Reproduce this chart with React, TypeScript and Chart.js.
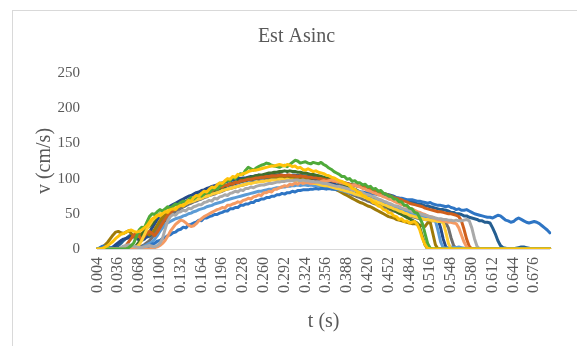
import React, { useEffect, useRef } from 'react';
import { Chart, registerables } from 'chart.js';

Chart.register(...registerables);

// Category axis: t (s), 0.004 .. 0.700 every 0.004
const categories: string[] = Array.from({ length: 175 }, (_, i) => ((i + 1) * 0.004).toFixed(3));
const yTicks = [0, 50, 100, 150, 200, 250];

const vYellow = [
  0,0,1,3,5,8,11,15,18,21,22,24,26,27,25,24,25,27,30,33,38,
  43,45,48,47,50,53,52,56,57,56,60,62,61,65,69,68,73,76,75,79,82,81,85,88,87,91,94,93,97,100,99,103,102,106,105,
  107,108,110,111,112,112,113,114,115,116,117,118,118,119,120,119,118,120,119,117,118,115,116,113,112,114,112,110,111,109,108,107,105,104,102,101,99,97,96,94,
  92,90,86,85,81,80,76,75,71,70,66,65,61,60,56,55,51,51,47,46,42,43,39,40,37,38,39,35,27,15,6,1,0,
  0,0,0,0,0,0,0,0,0,0,0,0,0,0,0,0,0,0,0,0,0,0,0,0,0,0,0,0,0,0,0,0,0,0,0,0,0,0,0,0,0,0,0,0,0,0,
];

const vGreen = [
  0,0,0,0,0,0,0,0,0,0,0,0,2,5,
  9,18,27,31,30,38,46,50,49,53,56,54,57,60,58,61,64,
  63,66,68,66,70,73,71,74,77,75,78,81,80,84,86,85,89,92,95,98,97,102,100,104,107,106,112,116,
  114,112,115,117,119,120,122,121,119,118,117,116,118,119,117,120,123,126,125,122,123,124,122,121,123,122,121,123,120,118,115,113,110,108,
  106,103,103,99,100,96,97,94,94,91,92,88,89,85,86,82,83,79,78,75,75,71,71,67,67,62,62,58,57,52,51,44,36,22,8,1,
  0,0,0,0,0,0,0,0,0,0,0,0,0,0,0,0,0,0,0,0,0,0,0,0,0,0,0,0,0,0,0,0,0,0,0,0,0,0,0,0,0,0,0,0,0,0,
];

const vGray = [
  0,0,0,0,0,0,0,0,0,2,4,5,6,5,4,3,2,2,3,4,5,4,3,5,8,15,
  28,40,46,49,48,52,53,55,54,58,57,60,61,63,63,66,67,69,68,72,71,74,75,77,76,79,80,82,81,84,83,86,86,88,87,
  89,90,91,91,92,93,93,94,95,95,96,96,97,97,97,98,98,97,98,97,97,96,96,95,95,94,93,93,92,91,90,89,89,88,87,86,85,84,83,82,
  81,80,78,77,76,74,73,71,70,68,67,65,64,62,61,60,58,57,56,55,53,52,51,50,49,48,47,46,45,44,43,43,42,42,41,41,40,41,40,40,41,42,40,30,15,4,0,
  0,0,0,0,0,0,0,0,0,0,0,0,0,0,0,0,0,0,0,0,0,0,0,0,0,0,0,
];

const vSalmon = [
  0,0,0,0,0,0,0,0,0,0,0,0,0,0,0,0,0,0,0,0,0,1,2,3,5,
  8,12,18,25,30,35,38,41,40,37,34,32,33,36,40,43,46,48,50,52,54,
  56,57,59,58,62,62,64,65,67,66,69,70,72,71,74,75,77,76,80,80,82,81,85,85,87,88,90,89,92,91,94,92,95,93,94,
  94,93,94,95,95,96,97,96,97,98,97,96,95,94,93,92,91,90,91,89,88,86,85,83,82,80,79,77,76,74,
  73,71,70,68,66,65,63,62,60,58,57,55,53,52,50,49,47,46,45,43,42,41,40,39,38,38,37,36,30,20,10,3,0,
  0,0,0,0,0,0,0,0,0,0,0,0,0,0,0,0,0,0,0,0,0,0,0,0,0,0,0,0,0,0,0,
];

const vGold = [
  0,0,0,0,0,0,0,0,0,0,0,0,0,0,1,3,6,12,
  20,28,34,40,44,47,50,52,54,55,57,58,59,61,62,63,64,66,67,68,70,71,72,74,75,76,78,79,80,81,83,84,85,
  86,87,88,89,90,91,92,93,93,94,95,95,96,96,97,97,98,98,98,99,99,98,99,98,98,97,97,96,96,95,95,94,93,93,92,91,90,90,89,88,
  87,86,85,84,83,82,81,80,78,77,76,75,73,72,71,69,68,66,65,63,62,60,59,57,56,54,53,51,50,48,47,46,45,44,43,42,42,41,40,40,39,39,38,24,8,0,
  0,0,0,0,0,0,0,0,0,0,0,0,0,0,0,0,0,0,0,0,0,0,0,0,0,0,0,0,0,0,0,0,0,0,0,0,0,0,
];

const vOrange = [
  0,0,0,0,0,0,0,0,0,0,2,5,
  10,15,20,22,18,14,18,23,25,22,19,24,30,36,42,
  48,51,55,56,61,61,65,65,70,70,73,73,76,76,80,79,83,82,86,85,88,88,91,90,93,92,95,94,97,
  97,98,99,99,100,101,101,102,102,103,103,104,104,104,105,105,104,105,105,104,104,103,104,103,103,102,102,101,101,100,100,99,98,98,97,
  96,96,95,94,94,93,92,91,91,90,89,88,87,86,85,84,83,81,80,79,78,76,75,73,72,71,70,68,67,65,64,63,62,61,60,58,57,56,55,54,53,53,52,51,50,50,49,48,46,40,28,14,4,
  0,0,0,0,0,0,0,0,0,0,0,0,0,0,0,0,0,0,0,0,0,0,0,0,0,0,0,0,0,0,0,
];

const vBlue = [
  0,2,4,4,3,2,1,0,0,0,0,0,0,0,0,0,0,0,0,2,
  4,7,8,11,12,15,16,19,20,23,24,27,28,31,30,34,35,37,38,41,40,44,44,46,47,49,
  49,51,52,54,54,57,57,59,59,62,62,64,64,66,66,69,69,71,71,73,73,75,75,77,77,79,78,80,80,82,81,83,83,84,84,
  84,85,85,86,85,86,86,85,86,85,85,84,85,84,83,84,83,82,83,82,81,81,80,80,79,78,78,77,77,76,76,75,74,74,73,72,72,71,70,70,
  70,69,68,68,67,66,65,66,64,63,62,62,61,60,61,59,58,56,57,55,55,56,54,52,50,49,48,47,46,45,45,44,46,48,47,44,41,40,38,39,42,44,42,40,38,37,38,39,38,36,33,30,27,23,
];

const vLtBlue = [
  0,0,0,0,0,0,0,0,0,0,0,0,1,2,3,2,1,2,4,6,8,10,
  14,19,25,30,34,37,39,41,43,44,45,47,48,50,51,53,54,56,57,58,60,61,62,64,65,66,67,69,70,71,72,73,74,75,
  76,77,78,79,80,81,82,82,83,84,85,85,86,87,87,88,88,89,89,90,90,91,90,91,91,90,91,90,90,89,89,88,88,87,86,86,85,84,83,82,
  81,80,79,78,77,76,75,74,73,71,70,69,68,66,65,64,62,61,60,58,57,55,54,53,52,50,49,48,47,46,45,44,43,42,40,26,10,2,
  1,2,3,2,2,3,2,1,1,0,0,0,0,0,0,0,0,0,0,0,0,0,0,0,0,0,0,0,0,0,0,0,0,0,0,0,0,0,0,0,0,
];

const vDkGreen = [
  0,0,0,0,0,0,0,0,0,0,0,0,0,1,3,5,10,
  18,26,30,32,36,42,47,50,52,54,56,58,60,62,63,64,66,67,69,70,72,73,75,76,
  77,79,80,82,83,85,86,88,89,91,92,93,95,96,98,99,100,101,102,103,104,105,105,106,107,108,108,109,109,110,110,111,110,111,110,
  110,109,109,108,108,107,106,106,105,104,103,102,101,100,98,97,96,94,93,91,90,88,86,85,83,81,79,77,75,73,71,69,67,65,63,61,59,57,55,53,51,49,47,45,43,41,39,37,30,18,6,0,
  0,0,0,0,0,0,0,0,0,0,0,0,0,0,0,0,0,0,0,0,0,0,0,0,0,0,0,0,0,0,0,0,0,0,0,0,0,0,0,0,0,0,0,0,0,0,0,
];

const vOlive = [
  0,1,3,6,10,15,20,24,25,23,22,24,26,22,18,17,19,22,24,22,20,23,28,34,40,
  45,48,51,54,57,59,61,63,65,67,69,70,72,74,75,77,78,80,81,83,84,86,87,88,89,91,92,93,94,95,96,97,98,99,99,100,
  101,101,102,102,103,102,103,103,102,103,102,102,101,102,101,100,101,100,99,99,98,97,96,95,94,92,91,90,88,87,85,84,82,80,78,
  76,74,72,70,68,66,65,63,61,60,58,56,54,52,50,48,46,45,44,42,41,40,39,38,37,36,36,35,34,33,32,37,38,22,6,
  0,0,0,0,0,0,0,0,0,0,0,0,0,0,0,0,0,0,0,0,0,0,0,0,0,0,0,0,0,0,0,0,0,0,0,0,0,0,0,0,0,0,0,0,
];

const vDkGray = [
  0,0,0,0,0,0,0,0,0,0,0,0,0,0,0,0,2,4,6,9,12,
  16,22,28,34,40,44,47,50,52,54,56,58,60,62,64,65,67,68,70,71,73,74,76,77,78,80,81,82,84,85,86,87,88,89,90,
  91,92,93,94,95,95,96,97,97,98,98,99,99,100,100,101,100,101,100,100,99,99,98,98,97,96,96,95,94,93,92,91,90,89,88,87,86,84,83,82,
  80,79,77,76,74,73,71,70,68,67,65,64,62,61,59,58,57,55,54,53,51,50,49,48,47,46,45,44,43,43,42,41,41,40,40,39,39,38,37,30,16,5,0,
  0,0,0,0,0,0,0,0,0,0,0,0,0,0,0,0,0,0,0,0,0,0,0,0,0,0,0,0,0,0,0,0,0,0,0,0,
];

const vNavy = [
  0,0,0,0,0,1,3,6,9,12,14,15,16,18,17,15,13,12,14,18,
  24,30,36,42,47,51,55,58,61,63,65,67,69,71,73,75,76,78,80,81,83,84,86,87,89,90,91,93,94,95,96,
  97,98,99,100,100,101,101,102,103,103,104,105,104,105,106,105,106,106,105,106,105,104,105,104,103,104,103,102,102,101,100,100,99,98,98,
  97,96,95,94,93,92,91,90,89,88,87,85,84,83,81,80,78,77,75,74,72,71,69,68,66,65,63,62,60,59,58,57,55,54,53,52,51,50,49,48,47,46,45,44,43,42,30,14,3,0,
  0,0,0,0,0,0,0,0,0,0,0,0,0,0,0,0,0,0,0,0,0,0,0,0,0,0,0,0,0,0,0,0,0,0,0,0,0,0,0,
];

const vTeal = [
  0,0,0,0,0,0,0,2,5,8,
  12,15,18,20,19,18,20,21,19,17,18,20,24,28,32,
  36,40,44,47,50,53,55,58,60,62,64,66,68,70,72,74,76,78,79,81,83,84,86,87,88,90,
  91,92,93,94,95,96,97,98,98,99,100,100,101,102,101,102,103,103,104,103,104,104,105,104,105,105,104,105,104,104,
  103,104,102,103,101,101,100,100,98,98,97,96,96,94,94,93,92,91,91,89,89,87,87,85,85,83,82,82,80,79,78,77,76,75,73,72,71,70,69,68,
  67,66,64,64,63,61,61,60,59,58,57,56,56,55,54,52,52,50,50,49,47,47,45,44,43,42,40,40,38,38,37,30,22,12,5,2,1,0,0,0,1,2,3,3,2,1,0,0,0,0,0,0,0,0,
];

// drawn top-first (Chart.js paints dataset 0 last)
const seriesNames = ['Yellow', 'Green', 'Gray', 'Salmon', 'Gold', 'Orange', 'Blue', 'LightBlue', 'DarkGreen', 'Olive', 'DarkGray', 'Navy', 'Teal'];
const seriesData = [vYellow, vGreen, vGray, vSalmon, vGold, vOrange, vBlue, vLtBlue, vDkGreen, vOlive, vDkGray, vNavy, vTeal];
const seriesColors = ['#FFC20A', '#4FAA3A', '#A9A9A9', '#F59A62', '#FFCD33', '#D0601C', '#2E75C4', '#5B9BD5', '#3E6F2A', '#9E7A08', '#707070', '#244A8A', '#245E91'];

const FONT = "'Liberation Serif', 'Times New Roman', serif";
const TEXT = '#595959';

export default function App() {
  const ref = useRef<HTMLCanvasElement | null>(null);
  useEffect(() => {
    const bad = seriesData.map((d, i) => [seriesNames[i], d.length]).filter((x) => x[1] !== 175);
    if (bad.length) throw new Error('bad lengths ' + JSON.stringify(bad));
    const chart = new Chart(ref.current as HTMLCanvasElement, {
      type: 'line',
      data: {
        labels: categories,
        datasets: seriesData.map((d, i) => ({
          label: seriesNames[i],
          data: d,
          borderColor: seriesColors[i],
          backgroundColor: seriesColors[i],
          borderWidth: 3,
          pointRadius: 0,
          tension: 0,
          fill: false,
          borderJoinStyle: 'round' as const,
          borderCapStyle: 'round' as const,
        })),
      },
      options: {
        responsive: false,
        animation: false,
        devicePixelRatio: 1,
        layout: { padding: { left: 29, right: 13, top: 0, bottom: 0 } },
        plugins: {
          legend: { display: false },
          tooltip: { enabled: false },
          title: {
            display: true,
            text: 'Est Asinc',
            color: TEXT,
            font: { family: FONT, size: 20, weight: 'normal' },
            padding: { top: 25, bottom: 24 },
          },
        },
        scales: {
          x: {
            type: 'category',
            offset: false,
            grid: { display: false, drawTicks: false },
            border: { display: true, color: '#d9d9d9', width: 1 },
            ticks: {
              autoSkip: false,
              minRotation: 90,
              maxRotation: 90,
              padding: 8,
              color: TEXT,
              font: { family: FONT, size: 16 },
              callback: (_v: any, i: number) => (i % 8 === 0 ? categories[i] : ''),
            },
            title: {
              display: true,
              text: 't (s)',
              color: TEXT,
              font: { family: FONT, size: 20 },
              padding: { top: 4, bottom: 12 },
            },
            afterFit: (s: any) => { s.height = 97; },
          },
          y: {
            min: 0,
            max: 250,
            afterBuildTicks: (s: any) => { s.ticks = yTicks.map((v) => ({ value: v })); },
            grid: { display: false, drawTicks: false },
            border: { display: false },
            ticks: { padding: 17.5, color: TEXT, font: { family: FONT, size: 15 } },
            title: {
              display: true,
              text: 'v (cm/s)',
              color: TEXT,
              font: { family: FONT, size: 20 },
              padding: { top: 4, bottom: 4 },
            },
            afterFit: (s: any) => { s.width = 68.5; },
          },
        },
      },
    });
    return () => chart.destroy();
  }, []);

  return (
    <div style={{ position: 'fixed', left: 0, top: 0, width: 577, height: 346, overflow: 'hidden', background: '#fff' }}>
      <div style={{ position: 'absolute', left: 12, top: 10, width: 620, height: 400, border: '1px solid #d9d9d9', boxSizing: 'border-box' }} />
      <canvas ref={ref} width={577} height={346} style={{ position: 'absolute', left: 0, top: 0, width: 577, height: 346 }} />
    </div>
  );
}
